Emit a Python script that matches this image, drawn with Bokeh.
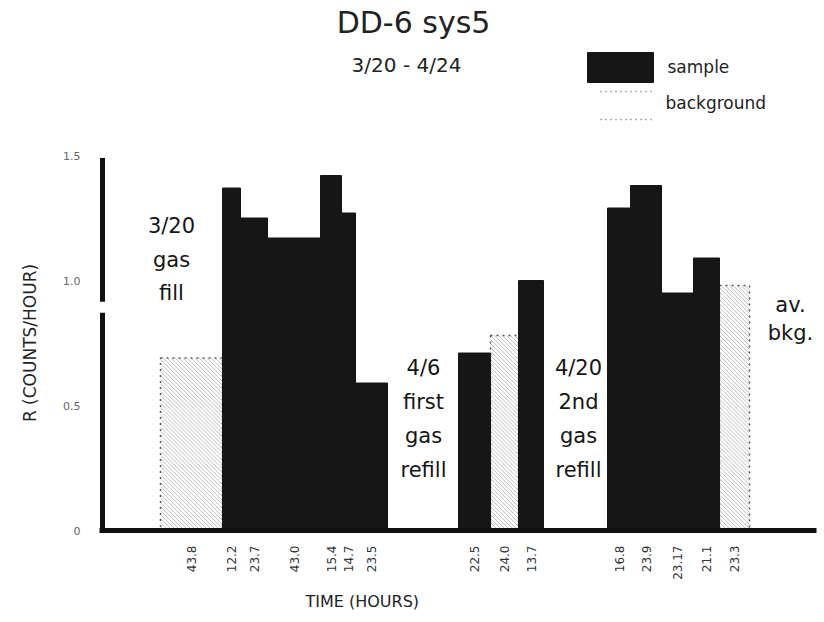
import math
from bokeh.plotting import figure
from bokeh.layouts import column
from bokeh.models import Range1d, FixedTicker, Label, ColumnDataSource, Title
from bokeh.embed import file_html
from bokeh.resources import INLINE

# ---------------- data ----------------
title_text = "DD-6 sys5"
subtitle_text = "3/20 - 4/24"
y_title = "R (COUNTS/HOUR)"
x_title = "TIME (HOURS)"
legend_labels = ["sample", "background"]

bar_hours = ["43.8", "12.2", "23.7", "43.0", "15.4", "14.7", "23.5",
             "22.5", "24.0", "13.7",
             "16.8", "23.9", "23.17", "21.1", "23.3"]
bar_kind = ["background", "sample", "sample", "sample", "sample", "sample", "sample",
            "sample", "background", "sample",
            "sample", "sample", "sample", "sample", "background"]
bar_rate = [0.69, 1.37, 1.25, 1.17, 1.42, 1.27, 0.59,
            0.71, 0.78, 1.00,
            1.29, 1.38, 0.95, 1.09, 0.98]
# horizontal extent of each bar along the time strip (chart units)
bar_start = [58, 120, 138, 165, 218, 239, 253, 356, 388, 416, 505, 528, 559, 591, 617]
bar_end = [120, 138, 165, 218, 239, 253, 285, 388, 416, 441, 528, 559, 591, 617, 647]

y_ticks = [0, 0.5, 1.0, 1.5]
y_tick_labels = ["0", "0.5", "1.0", "1.5"]
y_axis_gap = [0.871, 0.915]   # break drawn in the vertical axis

notes = [["3/20", "gas", "fill"],
         ["4/6", "first", "gas", "refill"],
         ["4/20", "2nd", "gas", "refill"],
         ["av.", "bkg."]]

# ---------------- styles / layout ----------------
FONT = "DejaVu Sans"
INK = "#161616"
FRAME_L, FRAME_B, PX_PER_UNIT = 102, 532, 251.33   # page pixel geometry
W, H = 820, 618
TOP_H = 145                                        # header strip height
X_RANGE = (-3, 714)


def dx(X):
    return X - FRAME_L


def dy(Y):
    return (FRAME_B - Y) / PX_PER_UNIT


SAMPLE_STYLE = dict(fill_color=INK, line_color=INK, line_width=1)
BG_STYLE = dict(fill_color="white", fill_alpha=0.0, line_color="#555555",
                line_dash="dotted", line_width=1.5)


def add_text(fig, ymap, s, X, Y, size, align="center", color="#151515"):
    # Y is the wanted baseline in page pixels
    fig.add_layout(Label(x=dx(X), y=ymap(Y - 0.42 * size), text=s, text_font=FONT,
                         text_font_size=f"{size}px", text_align=align,
                         text_baseline="alphabetic", text_color=color))


# ---------- header strip: title, subtitle, legend ----------
head = figure(width=W, height=TOP_H, x_range=Range1d(*X_RANGE), y_range=Range1d(0, TOP_H),
              x_axis_location=None, y_axis_location=None, output_backend="svg",
              toolbar_location=None, min_border_left=99, min_border_right=W - 816,
              min_border_top=0, min_border_bottom=0)
head.outline_line_color = None
head.grid.visible = False


def hy(Y):
    return TOP_H - Y


add_text(head, hy, title_text, 413, 35, 30, color="#222222")
add_text(head, hy, subtitle_text, 406, 73, 20, color="#222222")

# legend swatches
head.quad(left=[dx(587)], right=[dx(653)], top=[hy(52)], bottom=[hy(82)], **SAMPLE_STYLE)
head.segment(x0=[dx(600), dx(600)], x1=[dx(653), dx(653)], y0=[hy(91), hy(119)],
             y1=[hy(91), hy(119)], line_color="#666666", line_dash="1 4", line_width=1.5)
add_text(head, hy, legend_labels[0], 667, 74, 17, align="left", color="#222222")
add_text(head, hy, legend_labels[1], 665, 110, 17, align="left", color="#222222")

# ---------- main chart ----------
p = figure(width=W, height=H - TOP_H,
           x_range=Range1d(*X_RANGE), y_range=Range1d(0, 1.5),
           output_backend="svg", toolbar_location=None,
           min_border_left=99, min_border_right=W - 816,
           min_border_top=10, min_border_bottom=H - FRAME_B)
p.outline_line_color = None
p.xgrid.visible = False
p.ygrid.visible = False

centers = [(a + b) / 2 for a, b in zip(bar_start, bar_end)]


def pick(kind):
    idx = [i for i, k in enumerate(bar_kind) if k == kind]
    return ColumnDataSource(dict(left=[bar_start[i] for i in idx],
                                 right=[bar_end[i] for i in idx],
                                 top=[bar_rate[i] for i in idx],
                                 bottom=[0] * len(idx)))


p.quad(left="left", right="right", top="top", bottom="bottom",
       source=pick("background"), **BG_STYLE)

# diagonal shading lines inside background bars
hx0, hy0, hx1, hy1 = [], [], [], []
for L, R, T, k in zip(bar_start, bar_end, bar_rate, bar_kind):
    if k != "background":
        continue
    Hh = T * PX_PER_UNIT
    c = -Hh
    while c < (R - L):
        a_ = max(0.0, c)
        b_ = min(R - L, c + Hh)
        if b_ > a_:
            hx0.append(L + a_); hy0.append(T - (a_ - c) / PX_PER_UNIT)
            hx1.append(L + b_); hy1.append(T - (b_ - c) / PX_PER_UNIT)
        c += 4
p.segment(x0=hx0, y0=hy0, x1=hx1, y1=hy1, line_color="#8a8a8a", line_alpha=0.55, line_width=1)

p.quad(left="left", right="right", top="top", bottom="bottom",
       source=pick("sample"), **SAMPLE_STYLE)

# vertical axis line with its break
p.segment(x0=[0, 0], y0=[0, y_axis_gap[1]], x1=[0, 0], y1=[y_axis_gap[0], 1.49],
          line_color="#111111", line_width=5)

# axes
xa = p.xaxis[0]
xa.ticker = FixedTicker(ticks=centers)
xa.major_label_overrides = {(int(c) if c == int(c) else c): h for c, h in zip(centers, bar_hours)}
xa.major_label_orientation = math.pi / 2
xa.major_tick_line_color = None
xa.minor_tick_line_color = None
xa.axis_line_width = 5
xa.axis_line_color = "#111111"
xa.major_label_text_font = FONT
xa.major_label_text_font_size = "12px"
xa.major_label_text_color = "#333333"
xa.major_label_standoff = 9

ya = p.yaxis[0]
ya.ticker = FixedTicker(ticks=y_ticks)
ya.major_label_overrides = {t: l for t, l in zip(y_ticks, y_tick_labels)}
ya.axis_line_color = None
ya.major_tick_line_color = None
ya.minor_tick_line_color = None
ya.major_tick_out = 0
ya.major_label_text_font = FONT
ya.major_label_text_font_size = "11px"
ya.major_label_text_color = "#666666"
ya.major_label_standoff = 19
ya.axis_label = y_title
ya.axis_label_text_font = FONT
ya.axis_label_text_font_size = "17px"
ya.axis_label_text_font_style = "normal"
ya.axis_label_text_color = "#222222"
ya.axis_label_standoff = 20

p.add_layout(Title(text=x_title, align="left", offset=305 - 99, text_font=FONT,
                   text_font_size="16px", text_font_style="normal",
                   text_color="#222222", standoff=15), "below")

note_x = [171, 423, 578, 790]
note_y0 = [235, 377, 377, 314]
note_step = [33.5, 34.5, 34.5, 28]
for lines, X, Y0, st in zip(notes, note_x, note_y0, note_step):
    for k, s in enumerate(lines):
        add_text(p, dy, s, X, Y0 + k * st, 21)

page = column(head, p, spacing=0)
open("out.html", "w").write(file_html(page, INLINE))
